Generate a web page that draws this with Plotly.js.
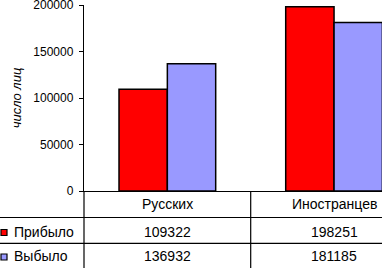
<!DOCTYPE html>
<html><head><meta charset="utf-8">
<script src="https://cdn.plot.ly/plotly-3.0.1.min.js"></script>
<style>html,body{margin:0;padding:0;background:#fff}#chart{width:382px;height:268px}</style>
</head><body><div id="chart"></div>
<script>
const categories = ['Русских', 'Иностранцев'];
const seriesNames = ['Прибыло', 'Выбыло'];
const arrived = [109322, 198251];
const departed = [136932, 181185];
const colors = ['#FF0000', '#9999FF'];
const yTicks = [0, 50000, 100000, 150000, 200000];

const W = 382, H = 268, L = 84, R = 0, T = 5, B = 77;
const pw = W - L - R, ph = H - T - B;
const px2x = p => (p - L) / pw;
const py2y = p => (T + ph - p) / ph;
const FONT = 'Arial, "Liberation Sans", sans-serif';
const series = [arrived, departed];

const traces = series.map((vals, i) => ({
  type: 'bar', x: categories, y: vals, name: seriesNames[i],
  marker: {color: colors[i], line: {color: '#000', width: 1.5}},
  hoverinfo: 'none'
}));

const shapes = [];
const annotations = [];
// table horizontal lines
[217.5, 243.3].forEach(py => shapes.push({type: 'line', xref: 'paper', yref: 'paper',
  x0: px2x(0), x1: 1, y0: py2y(py), y1: py2y(py), line: {color: '#000', width: 1.2}}));
// left vertical line continuing axis
shapes.push({type: 'line', xref: 'paper', yref: 'paper', x0: 0, x1: 0, y0: 0, y1: py2y(H),
  line: {color: '#000', width: 1.2}});
// category divider
shapes.push({type: 'line', xref: 'x', yref: 'paper', x0: 0.5, x1: 0.5, y0: 0, y1: py2y(H),
  line: {color: '#000', width: 1.2}});

const rowY = [204, 231.5, 256];
categories.forEach((c, j) => {
  annotations.push({xref: 'x', yref: 'paper', x: j, y: py2y(rowY[0]), text: c, showarrow: false,
    xanchor: 'center', yanchor: 'middle', font: {family: FONT, size: 14, color: '#000'}});
  series.forEach((vals, i) => annotations.push({xref: 'x', yref: 'paper', x: j, y: py2y(rowY[i + 1]),
    text: String(vals[j]), showarrow: false, xanchor: 'center', yanchor: 'middle',
    font: {family: FONT, size: 14, color: '#000'}}));
});
seriesNames.forEach((n, i) => {
  const cy = rowY[i + 1] + 1;
  shapes.push({type: 'rect', xref: 'paper', yref: 'paper', x0: px2x(1), x1: px2x(7),
    y0: py2y(cy - 3), y1: py2y(cy + 3), fillcolor: colors[i], line: {color: '#000', width: 1.2}});
  annotations.push({xref: 'paper', yref: 'paper', x: px2x(12), y: py2y(rowY[i + 1]), text: n,
    showarrow: false, xanchor: 'left', yanchor: 'middle', font: {family: FONT, size: 14, color: '#000'}});
});

const layout = {
  width: W, height: H, margin: {l: L, r: R, t: T, b: B, pad: 0},
  paper_bgcolor: '#fff', plot_bgcolor: '#fff', showlegend: false,
  bargap: 0.42, bargroupgap: 0,
  font: {family: FONT, color: '#000'},
  xaxis: {type: 'category', range: [-0.5, -0.5 + pw / 166.7], showticklabels: false, ticks: '',
    showgrid: false, zeroline: false, showline: true, linecolor: '#000', linewidth: 1.2, fixedrange: true},
  yaxis: {range: [0, 200000], tickvals: yTicks, ticktext: yTicks.map(String), ticks: 'outside',
    ticklen: 4, tickcolor: '#000', tickwidth: 1, showgrid: false, zeroline: false, showline: true,
    linecolor: '#000', linewidth: 1.2, tickfont: {family: FONT, size: 12, color: '#000'},
    ticklabeloverflow: 'allow', ticklabelstandoff: 3,
    title: {text: '<i>число лиц</i>', font: {family: FONT, size: 13, color: '#000'}, standoff: 8},
    fixedrange: true},
  shapes: shapes, annotations: annotations
};
Plotly.newPlot('chart', traces, layout, {staticPlot: true, displayModeBar: false});
</script></body></html>
